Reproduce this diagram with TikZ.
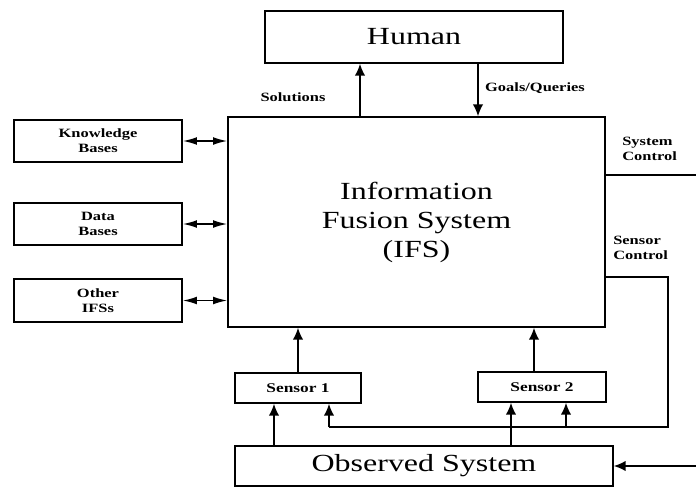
\documentclass[tikz,border=0pt]{standalone}
\usepackage{fontspec}
\setmainfont[FakeStretch=1.3]{Liberation Serif}
\usepackage{tikz}
\usetikzlibrary{fit,positioning,calc,arrows.meta}

\tikzset{
  box/.style={draw, line width=1.1pt, inner sep=0pt},
  big/.style={font=\fontsize{17.5}{20.6}\selectfont, align=center},
  lbl/.style={font=\bfseries\fontsize{9}{10.5}\selectfont, align=center},
  conn/.style={line width=1.1pt},
  arr/.style={conn, -{Latex[length=8.5pt,width=7.5pt]}},
  darr/.style={conn, {Latex[length=10pt,width=5.5pt]}-{Latex[length=10pt,width=5.5pt]}}
}

\begin{document}
\begin{tikzpicture}[x=0.025cm, y=-0.025cm]
    \useasboundingbox (0,0) rectangle (696,487);

    % main blocks
    \node[fit={(265,11) (563,63)}, box] (human) {};
    \node[big] (humantxt) at (human.center) {Human};
    \node[fit={(228,117) (605,327)}, box] (ifs) {};
    \node[big] (ifstxt) at (ifs.center) {Information\\Fusion System\\(IFS)};

    % stores on the left
    \node[fit={(14,120) (182,162)}, box] (kb) {};
    \node[lbl] (kbtxt) at (kb.center) {Knowledge\\Bases};
    \node[fit={(14,203) (182,245)}, box] (db) {};
    \node[lbl] (dbtxt) at (db.center) {Data\\Bases};
    \node[fit={(14,279) (182,322)}, box] (oifs) {};
    \node[lbl] (oifstxt) at (oifs.center) {Other\\IFSs};

    \draw[darr] (kb.east) -- (kb.east -| ifs.west);
    \draw[darr] (db.east) -- (db.east -| ifs.west);
    \draw[darr] (oifs.east) -- (oifs.east -| ifs.west);

    % human <-> ifs
    \coordinate (solx) at (360,0);
    \coordinate (goalx) at (478,0);
    \draw[arr] (ifs.north -| solx) -- (human.south -| solx);
    \draw[arr] (human.south -| goalx) -- (ifs.north -| goalx);
    \node[lbl] (sollbl) at (293,97) {Solutions};
    \node[lbl] (goallbl) at (535,88) {Goals/Queries};

    % sensors and observed system
    \node[fit={(235,373) (361,403)}, box] (sensor1) {};
    \node[lbl, font=\bfseries\fontsize{9.5}{11}\selectfont] (s1txt) at (sensor1.center) {Sensor 1};
    \node[fit={(478,372) (606,402)}, box] (sensor2) {};
    \node[lbl, font=\bfseries\fontsize{9.5}{11}\selectfont] (s2txt) at (sensor2.center) {Sensor 2};
    \node[fit={(235,446) (613,486)}, box] (observed) {};
    \node[big] (obstxt) at (observed.center) {Observed System};

    \coordinate (s2up) at (534,0);
    \draw[arr] (sensor1.north) -- (sensor1.north |- ifs.south);
    \draw[arr] (sensor2.north -| s2up) -- (ifs.south -| s2up);

    \coordinate (o1) at (274,0);
    \coordinate (o2) at (511,0);
    \draw[arr] (observed.north -| o1) -- (sensor1.south -| o1);
    \draw[arr] (observed.north -| o2) -- (sensor2.south -| o2);

    \coordinate (ext) at (696,0);
    \draw[arr] (observed.east -| ext) -- (observed.east);

    % control outputs
    \coordinate (sysctl) at (696,175);
    \draw[conn] (ifs.east |- sysctl) -- (sysctl);
    \node[lbl, align=left, anchor=west, inner sep=0pt] (syslbl) at (622,149) {System\\Control};

    \coordinate (ctl) at (668,277);
    \coordinate (ctlb) at (668,427);
    \coordinate (s1c) at (329,427);
    \coordinate (s2c) at (566,427);
    \draw[conn] (ifs.east |- ctl) -- (ctl) -- (ctlb) -- (s1c);
    \draw[arr] (s1c) -- (sensor1.south -| s1c);
    \draw[arr] (s2c) -- (sensor2.south -| s2c);
    \node[lbl, align=left, anchor=west, inner sep=0pt] (ctllbl) at (613,248) {Sensor\\Control};
\end{tikzpicture}
\end{document}
